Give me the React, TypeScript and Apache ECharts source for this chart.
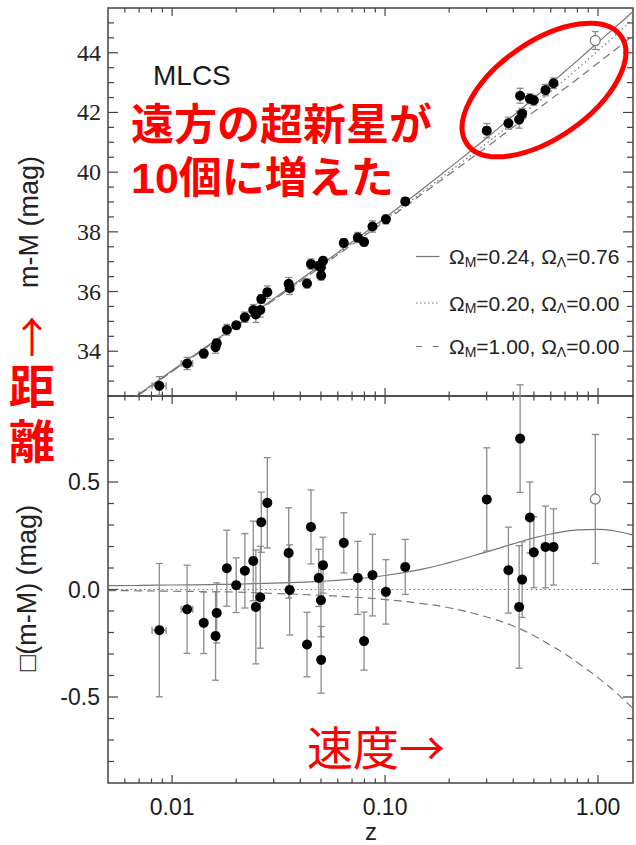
import React, { useEffect, useRef } from 'react';
import * as echarts from 'echarts';

// ---------- axis extents / ticks ----------
const Z_MIN = 0.005;
const Z_MAX = 1.46;
const xMajorTicks = [0.01, 0.1, 1.0];
const xMinorTicks = [0.006, 0.007, 0.008, 0.009, 0.02, 0.03, 0.04, 0.05, 0.06, 0.07, 0.08, 0.09, 0.2, 0.3, 0.4, 0.5, 0.6, 0.7, 0.8, 0.9];
const topYMajor = [34, 36, 38, 40, 42, 44];
const topYMinor = [33, 33.5, 34.5, 35, 35.5, 36.5, 37, 37.5, 38.5, 39, 39.5, 40.5, 41, 41.5, 42.5, 43, 43.5, 44.5, 45];
const botYMajor = [-0.5, 0, 0.5];
const botYMinor = [-0.8, -0.7, -0.6, -0.4, -0.3, -0.2, -0.1, 0.1, 0.2, 0.3, 0.4, 0.6, 0.7, 0.8];

// ---------- observations (filled points) ----------
const zObs = [0.00871, 0.01176, 0.01408, 0.0160, 0.0162, 0.01807, 0.0200, 0.02196, 0.02405, 0.02473, 0.02623, 0.02595, 0.0280, 0.03526, 0.03565, 0.0430, 0.04489, 0.04881, 0.05113, 0.0500, 0.0501, 0.0640, 0.07447, 0.0797, 0.0873, 0.1009, 0.1244, 0.3003, 0.3796, 0.4308, 0.4262, 0.4403, 0.4786, 0.4995, 0.5667, 0.6181];
const mObs = [32.84, 33.59, 33.92, 34.14, 34.27, 34.72, 34.87, 35.14, 35.38, 35.23, 35.75, 35.38, 35.98, 36.26, 36.11, 36.27, 36.92, 36.86, 37.03, 36.81, 36.54, 37.63, 37.81, 37.66, 38.18, 38.42, 39.02, 41.39, 41.64, 42.56, 41.76, 41.96, 42.46, 42.41, 42.75, 42.98];
const rObs = [-0.189, -0.092, -0.155, -0.216, -0.109, 0.099, 0.020, 0.087, 0.133, -0.081, 0.313, -0.036, 0.403, 0.170, -0.002, -0.256, 0.291, 0.054, 0.113, -0.050, -0.327, 0.217, 0.054, -0.240, 0.067, -0.011, 0.105, 0.419, 0.090, 0.702, -0.081, 0.046, 0.335, 0.173, 0.198, 0.198];
const eObs = [0.31, 0.205, 0.143, 0.206, 0.14, 0.177, 0.127, 0.173, 0.185, 0.265, 0.14, 0.237, 0.21, 0.21, 0.21, 0.15, 0.172, 0.133, 0.13, 0.17, 0.155, 0.14, 0.17, 0.135, 0.19, 0.15, 0.128, 0.24, 0.2, 0.25, 0.285, 0.176, 0.165, 0.165, 0.19, 0.177];
// horizontal (redshift) error bars of the first two points
const zErrLow = [0.00805, 0.01103];
const zErrHigh = [0.00937, 0.0125];

// ---------- open point ----------
const zOpen = [0.971];
const mOpen = [44.41];
const rOpen = [0.421];
const eOpen = [0.30];

// ---------- model curves ----------
const zModel = [0.005, 0.007, 0.01, 0.015, 0.02, 0.03, 0.05, 0.07, 0.1, 0.15, 0.2, 0.3, 0.4, 0.5, 0.6, 0.7, 0.8, 1.0, 1.2, 1.46];
// reference model (OmegaM=0.20, OmegaL=0.00) distance modulus
const mRef = [31.82, 32.55, 33.33, 34.21, 34.84, 35.73, 36.86, 37.61, 38.41, 39.34, 40.01, 40.97, 41.68, 42.24, 42.70, 43.11, 43.46, 44.07, 44.57, 45.13];
// residuals relative to reference
const dSolid = [0.018, 0.019, 0.021, 0.023, 0.025, 0.03, 0.038, 0.048, 0.065, 0.095, 0.125, 0.175, 0.212, 0.24, 0.258, 0.27, 0.277, 0.28, 0.272, 0.253];
const dDashed = [-0.005, -0.006, -0.008, -0.01, -0.012, -0.018, -0.027, -0.035, -0.047, -0.066, -0.085, -0.128, -0.17, -0.215, -0.26, -0.3, -0.34, -0.41, -0.475, -0.553];

// ---------- legend ----------
const legendOmegaM = ['0.24', '0.20', '1.00'];
const legendOmegaL = ['0.76', '0.00', '0.00'];

const CURVE = '#777777';
const ERR = '#8c8c8c';
const FRAME = '#444444';
const RED = '#ff0000';
const SANS = 'Liberation Sans, Arial, sans-serif';
const SERIF = 'Liberation Serif, Times New Roman, serif';
const CJK = 'Noto Sans CJK JP';
const CJK_TIGHT = 'Liberation Sans, Noto Sans CJK JP';

const MAJ_X = 8, MIN_X = 4.5, MAJ_Y = 10, MIN_Y = 6;

function xTickRender(params: any, api: any) {
  const cs = params.coordSys;
  const p = api.coord([api.value(0), api.value(1)]);
  const len = api.value(2);
  const st = { stroke: FRAME, lineWidth: 1.2 };
  return {
    type: 'group',
    children: [
      { type: 'line', shape: { x1: p[0], y1: cs.y + cs.height, x2: p[0], y2: cs.y + cs.height - len }, style: st },
      { type: 'line', shape: { x1: p[0], y1: cs.y, x2: p[0], y2: cs.y + len }, style: st },
    ],
  };
}

function yTickRender(params: any, api: any) {
  const cs = params.coordSys;
  const p = api.coord([api.value(0), api.value(1)]);
  const len = api.value(2);
  const st = { stroke: FRAME, lineWidth: 1.2 };
  return {
    type: 'group',
    children: [
      { type: 'line', shape: { x1: cs.x, y1: p[1], x2: cs.x + len, y2: p[1] }, style: st },
      { type: 'line', shape: { x1: cs.x + cs.width, y1: p[1], x2: cs.x + cs.width - len, y2: p[1] }, style: st },
    ],
  };
}

function errRender(params: any, api: any) {
  const z = api.value(0), y = api.value(1), e = api.value(2);
  const lo = api.value(3), hi = api.value(4);
  const top = api.coord([z, y + e]);
  const bot = api.coord([z, y - e]);
  const cap = 3.5;
  const st = { stroke: ERR, lineWidth: 1.3 };
  const children: any[] = [
    { type: 'line', shape: { x1: top[0], y1: top[1], x2: bot[0], y2: bot[1] }, style: st },
    { type: 'line', shape: { x1: top[0] - cap, y1: top[1], x2: top[0] + cap, y2: top[1] }, style: st },
    { type: 'line', shape: { x1: bot[0] - cap, y1: bot[1], x2: bot[0] + cap, y2: bot[1] }, style: st },
  ];
  if (lo > 0 && hi > 0) {
    const l = api.coord([lo, y]);
    const h = api.coord([hi, y]);
    children.push(
      { type: 'line', shape: { x1: l[0], y1: l[1], x2: h[0], y2: h[1] }, style: st },
      { type: 'line', shape: { x1: l[0], y1: l[1] - cap, x2: l[0], y2: l[1] + cap }, style: st },
      { type: 'line', shape: { x1: h[0], y1: h[1] - cap, x2: h[0], y2: h[1] + cap }, style: st },
    );
  }
  return { type: 'group', children };
}

function buildOption() {
  const xTickData = (yv: number) => [
    ...xMajorTicks.map((v) => [v, yv, MAJ_X]),
    ...xMinorTicks.map((v) => [v, yv, MIN_X]),
  ];
  const yTickData = (maj: number[], min: number[]) => [
    ...maj.map((v) => [Z_MIN, v, MAJ_Y]),
    ...min.map((v) => [Z_MIN, v, MIN_Y]),
  ];
  const errData = (vals: number[], errs: number[], zs: number[]) =>
    zs.map((z, i) => [z, vals[i], errs[i], i < zErrLow.length ? zErrLow[i] : 0, i < zErrHigh.length ? zErrHigh[i] : 0]);
  const errDataOpen = (vals: number[], errs: number[]) => zOpen.map((z, i) => [z, vals[i], errs[i], 0, 0]);

  const xLabelFmt = (v: number) => {
    const l = Math.log10(v);
    if (Math.abs(l - Math.round(l)) < 1e-6) return Math.pow(10, Math.round(l)).toFixed(2);
    return '';
  };

  const curve = (xi: number, data: number[][], type: any) => ({
    type: 'line',
    xAxisIndex: xi,
    yAxisIndex: xi,
    data,
    showSymbol: false,
    smooth: true,
    silent: true,
    z: 1,
    lineStyle: { color: CURVE, width: 1.2, type },
  });

  const filled = { color: '#000', opacity: 1 };
  const open = { color: '#fff', borderColor: '#777', borderWidth: 1.2, opacity: 1 };

  const series: any[] = [];
  for (let g = 0; g < 2; g++) {
    const yMin = g === 0 ? 32.5 : -0.9;
    series.push({
      type: 'custom', xAxisIndex: g, yAxisIndex: g, renderItem: xTickRender, data: xTickData(yMin),
      encode: { x: 0, y: 1 }, clip: false, silent: true, z: 5,
    });
    series.push({
      type: 'custom', xAxisIndex: g, yAxisIndex: g, renderItem: yTickRender,
      data: g === 0 ? yTickData(topYMajor, topYMinor) : yTickData(botYMajor, botYMinor),
      encode: { x: 0, y: 1 }, clip: false, silent: true, z: 5,
    });
  }
  // top panel
  series.push(curve(0, zModel.map((z, i) => [z, mRef[i] + dSolid[i]]), 'solid'));
  series.push(curve(0, zModel.map((z, i) => [z, mRef[i]]), [1.5, 3]));
  series.push(curve(0, zModel.map((z, i) => [z, mRef[i] + dDashed[i]]), [8, 5]));
  series.push({ type: 'custom', xAxisIndex: 0, yAxisIndex: 0, renderItem: errRender, data: errData(mObs, eObs, zObs), encode: { x: 0, y: 1 }, clip: false, silent: true, z: 2 });
  series.push({ type: 'custom', xAxisIndex: 0, yAxisIndex: 0, renderItem: errRender, data: errDataOpen(mOpen, eOpen), encode: { x: 0, y: 1 }, clip: false, silent: true, z: 2 });
  series.push({ type: 'scatter', xAxisIndex: 0, yAxisIndex: 0, data: zObs.map((z, i) => [z, mObs[i]]), symbolSize: 10, itemStyle: filled, silent: true, z: 3 });
  series.push({ type: 'scatter', xAxisIndex: 0, yAxisIndex: 0, data: zOpen.map((z, i) => [z, mOpen[i]]), symbolSize: 10, itemStyle: open, silent: true, z: 3 });
  // bottom panel
  series.push(curve(1, zModel.map((z, i) => [z, dSolid[i]]), 'solid'));
  series.push(curve(1, zModel.map((z) => [z, 0]), [1.5, 3]));
  series.push(curve(1, zModel.map((z, i) => [z, dDashed[i]]), [8, 5]));
  series.push({ type: 'custom', xAxisIndex: 1, yAxisIndex: 1, renderItem: errRender, data: errData(rObs, eObs, zObs), encode: { x: 0, y: 1 }, clip: false, silent: true, z: 2 });
  series.push({ type: 'custom', xAxisIndex: 1, yAxisIndex: 1, renderItem: errRender, data: errDataOpen(rOpen, eOpen), encode: { x: 0, y: 1 }, clip: false, silent: true, z: 2 });
  series.push({ type: 'scatter', xAxisIndex: 1, yAxisIndex: 1, data: zObs.map((z, i) => [z, rObs[i]]), symbolSize: 10, itemStyle: filled, silent: true, z: 3 });
  series.push({ type: 'scatter', xAxisIndex: 1, yAxisIndex: 1, data: zOpen.map((z, i) => [z, rOpen[i]]), symbolSize: 10, itemStyle: open, silent: true, z: 3 });

  const legendY = [256.5, 303, 346.5];
  const legendDash: any[] = [null, [1.5, 2.5], [6, 10.7]];
  const graphic: any[] = [];
  legendY.forEach((y, i) => {
    graphic.push({
      type: 'line', shape: { x1: 416, y1: y, x2: 439.5, y2: y },
      style: { stroke: CURVE, lineWidth: 1.2, lineDash: legendDash[i] || undefined },
    });
    graphic.push({
      type: 'text', x: 449, y,
      style: {
        text: `{o|Ω}{s|M}{o|=${legendOmegaM[i]}, Ω}{s|Λ}{o|=${legendOmegaL[i]}}`,
        verticalAlign: 'middle',
        rich: {
          o: { fontSize: 21, fontFamily: SANS, fill: '#222', lineHeight: 24, verticalAlign: 'middle' },
          s: { fontSize: 14, fontFamily: SANS, fill: '#222', lineHeight: 10, verticalAlign: 'bottom' },
        },
      },
      z: 20,
    });
  });

  graphic.push(
    { type: 'text', x: 153, y: 75, style: { text: 'MLCS', fontSize: 28, fontFamily: SANS, fill: '#1a1a1a', verticalAlign: 'middle' }, z: 20 },
    { type: 'text', x: 29, y: 222, rotation: Math.PI / 2, style: { text: 'm-M (mag)', fontSize: 27, fontFamily: SANS, fill: '#222', align: 'center', verticalAlign: 'middle' }, z: 20 },
    { type: 'text', x: 27, y: 588, rotation: Math.PI / 2, style: { text: '□(m-M) (mag)', fontSize: 27, fontFamily: SANS, fill: '#222', align: 'center', verticalAlign: 'middle' }, z: 20 },
    { type: 'text', x: 371, y: 831, style: { text: 'z', fontSize: 24, fontFamily: SANS, fill: '#222', align: 'center', verticalAlign: 'middle' }, z: 20 },
    // red annotations
    { type: 'ellipse', x: 544, y: 90, rotation: (35 * Math.PI) / 180, shape: { cx: 0, cy: 0, rx: 94, ry: 48 }, style: { fill: 'none', stroke: RED, lineWidth: 5 }, z: 30 },
    {
      type: 'text', x: 131, y: 151.5,
      style: { text: '遠方の超新星が\n10個に増えた', fontSize: 43, lineHeight: 53, fontWeight: 'bold', fontFamily: CJK_TIGHT, fill: RED, verticalAlign: 'middle' },
      z: 30,
    },
    { type: 'text', x: 32, y: 334, style: { text: '↑', fontSize: 42, fontFamily: CJK, fill: RED, align: 'center', verticalAlign: 'middle' }, z: 30 },
    {
      type: 'text', x: 32, y: 414,
      style: { text: '距\n離', fontSize: 46, lineHeight: 55, fontWeight: 'bold', fontFamily: CJK_TIGHT, fill: RED, align: 'center', verticalAlign: 'middle' },
      z: 30,
    },
    { type: 'text', x: 307, y: 745, style: { text: '速度→', fontSize: 46, fontFamily: CJK, fill: RED, verticalAlign: 'middle' }, z: 30 },
  );

  const baseX = {
    type: 'log', logBase: 10, min: Z_MIN, max: Z_MAX,
    axisLine: { show: false }, axisTick: { show: false }, splitLine: { show: false }, minorTick: { show: false },
  };

  return {
    animation: false,
    backgroundColor: '#ffffff',
    grid: [
      { left: 108, top: 8, width: 525, height: 388, show: true, borderColor: FRAME, borderWidth: 1.5, backgroundColor: 'transparent' },
      { left: 108, top: 396, width: 525, height: 387, show: true, borderColor: FRAME, borderWidth: 1.5, backgroundColor: 'transparent' },
    ],
    xAxis: [
      { ...baseX, gridIndex: 0, axisLabel: { show: false } },
      { ...baseX, gridIndex: 1, axisLabel: { show: true, formatter: xLabelFmt, fontSize: 23, fontFamily: SANS, color: '#1a1a1a', margin: 12 } },
    ],
    yAxis: [
      {
        type: 'value', gridIndex: 0, min: 32.5, max: 45.5, interval: 0.5,
        axisLine: { show: false }, axisTick: { show: false }, splitLine: { show: false },
        axisLabel: {
          fontSize: 24, fontFamily: SERIF, color: '#222', margin: 7,
          formatter: (v: number) => {
            const r = Math.round(v);
            return Math.abs(v - r) < 1e-6 && topYMajor.indexOf(r) >= 0 ? String(r) : '';
          },
        },
      },
      {
        type: 'value', gridIndex: 1, min: -0.9, max: 0.9, interval: 0.1,
        axisLine: { show: false }, axisTick: { show: false }, splitLine: { show: false },
        axisLabel: {
          fontSize: 23, fontFamily: SANS, color: '#222', margin: 8,
          formatter: (v: number) => {
            for (const t of botYMajor) {
              if (Math.abs(v - t) < 1e-6) return t === 0 ? '0.0' : t.toFixed(1);
            }
            return '';
          },
        },
      },
    ],
    series,
    graphic,
  };
}

export default function App() {
  const ref = useRef<HTMLDivElement>(null);
  useEffect(() => {
    document.body.style.margin = '0';
    const chart = echarts.init(ref.current as HTMLDivElement, null, { renderer: 'svg' });
    chart.setOption(buildOption() as any);
    return () => chart.dispose();
  }, []);
  return <div ref={ref} style={{ position: 'absolute', left: 0, top: 0, width: 636, height: 845 }} />;
}
